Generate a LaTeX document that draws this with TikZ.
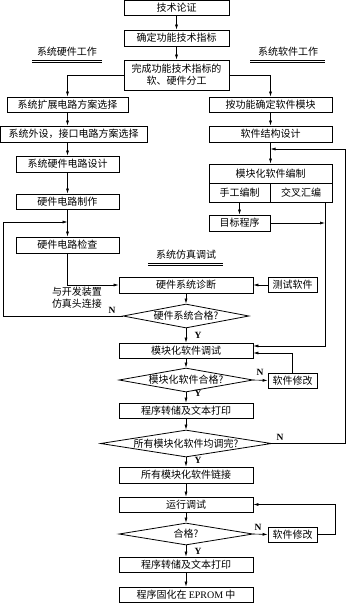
\documentclass[tikz,border=0pt]{standalone}
\usepackage{fontspec}
\setmainfont{Liberation Serif}
\newfontfamily\cjk{Noto Sans CJK SC}
\usetikzlibrary{arrows.meta,shapes.geometric}
\begin{document}
\begin{tikzpicture}[x=1pt,y=-1pt,
  every node/.style={font=\cjk\fontsize{10}{12}\selectfont},
  box/.style={draw,line width=0.8pt,inner sep=0pt,align=center},
  dia/.style={draw,diamond,line width=0.8pt,inner sep=0pt},
  arr/.style={line width=0.6pt,-{Latex[length=5pt,width=3pt]}},
  ln/.style={line width=0.6pt},
  yn/.style={font=\rmfamily\bfseries\fontsize{9.5}{10}\selectfont,inner sep=0pt}
]
\useasboundingbox (0,0) rectangle (347,603);

% top column
\node[box,minimum width=105pt,minimum height=15pt] (t1) at (176.5,8) {技术论证};
\node[box,minimum width=105pt,minimum height=16pt] (t2) at (176.5,38) {确定功能技术指标};
\node[box,minimum width=105pt,minimum height=30pt] (t3) at (176.5,75) {完成功能技术指标的\\软、硬件分工};

% section titles
\node (hw) at (67,52) {系统硬件工作};
\draw[ln] (32,60) -- (102,60) (32,62.5) -- (102,62.5);
\node (sw) at (288,52) {系统软件工作};
\draw[ln] (250,60) -- (325,60) (250,62.5) -- (325,62.5);
\node (sim) at (186,255) {系统仿真调试};
\draw[ln] (148,263) -- (223,263) (148,265.5) -- (223,265.5);

% hardware column
\node[box,minimum width=121pt,minimum height=15pt] (h1) at (67.5,104.5) {系统扩展电路方案选择};
\node[box,minimum width=146.5pt,minimum height=16pt] (h2) at (73.75,134) {系统外设，接口电路方案选择};
\node[box,minimum width=103pt,minimum height=16pt] (h3) at (67.5,164) {系统硬件电路设计};
\node[box,minimum width=103pt,minimum height=15pt] (h4) at (67.5,201.5) {硬件电路制作};
\node[box,minimum width=103pt,minimum height=16pt] (h5) at (67.5,245) {硬件电路检查};
\node[align=center] (lbl) at (77,297.5) {与开发装置\\仿真头连接};

% software column
\node[box,minimum width=123pt,minimum height=15pt] (s1) at (270.5,104.5) {按功能确定软件模块};
\node[box,minimum width=123pt,minimum height=16pt] (s2) at (270.5,134) {软件结构设计};
\node[box,minimum width=123pt,minimum height=19pt] (s3) at (270.5,173.5) {模块化软件编制};
\node[box,minimum width=61pt,minimum height=19pt] (s3a) at (239.5,192.5) {手工编制};
\node[box,minimum width=62pt,minimum height=19pt] (s3b) at (301,192.5) {交叉汇编};
\node[box,minimum width=61pt,minimum height=16pt] (s4) at (239.5,223) {目标程序};

% main column
\node[box,minimum width=134pt,minimum height=16pt] (m1) at (186,285) {硬件系统诊断};
\node[box,minimum width=49pt,minimum height=15pt] (test) at (292.5,285) {测试软件};
\node[dia,minimum width=126pt,minimum height=24pt,shape aspect=5.25] (d1) at (186,316) {硬件系统合格?};
\node[box,minimum width=134pt,minimum height=15pt] (m2) at (186,350.5) {模块化软件调试};
\node[dia,minimum width=134pt,minimum height=24pt,shape aspect=5.58] (d2) at (186,380) {模块化软件合格?};
\node[box,minimum width=49pt,minimum height=15pt] (fix1) at (292.5,380.5) {软件修改};
\node[box,minimum width=134pt,minimum height=15pt] (m3) at (186,410.5) {程序转储及文本打印};
\node[dia,minimum width=171pt,minimum height=27pt,shape aspect=6.33] (d3) at (186,443.5) {所有模块化软件均调完?};
\node[box,minimum width=134pt,minimum height=16pt] (m4) at (186,475) {所有模块化软件链接};
\node[box,minimum width=134pt,minimum height=15pt] (m5) at (186,504.5) {运行调试};
\node[dia,minimum width=134pt,minimum height=22pt,shape aspect=6] (d4) at (186,534) {合格?};
\node[box,minimum width=49pt,minimum height=15pt] (fix2) at (292.5,534.5) {软件修改};
\node[box,minimum width=134pt,minimum height=15pt] (m6) at (186,564.5) {程序转储及文本打印};
\node[box,minimum width=134pt,minimum height=15pt] (m7) at (186,594.5) {程序固化在 {\rmfamily EPROM} 中};

% Y / N labels
\node[yn] (y1) at (198,335) {Y};
\node[yn] (y2) at (198,393.5) {Y};
\node[yn] (y3) at (198,460) {Y};
\node[yn] (y4) at (198,551) {Y};
\node[yn] (n1) at (112,310) {N};
\node[yn] (n2) at (260,372) {N};
\node[yn] (n3) at (280,437) {N};
\node[yn] (n4) at (258,527) {N};

% coordinates
\coordinate (lp) at (3,222);
\coordinate (fr) at (345,149);
\coordinate (cx) at (325,346);
\coordinate (cy) at (292.5,353);
\coordinate (fz) at (335,504.5);

% connectors
\draw[arr] (t1) -- (t2);
\draw[arr] (t2) -- (t3);
\draw[arr] (t3.west) -| (h1.north);
\draw[arr] (t3.east) -| (s1.north);
\draw[arr] (h1.south) -- (h1.south |- h2.north);
\draw[arr] (h3.north |- h2.south) -- (h3.north);
\draw[arr] (h3) -- (h4);
\draw[arr] (h4) -- (h5);
\draw[arr] (d1.west) -- (d1.west -| lp) -- (lp) -- (lp -| h4.south);
\draw[arr] (h5.south) |- (m1.west);
\draw[arr] (test) -- (m1);
\draw[arr] (m1) -- (d1);
\draw[arr] (d1) -- (m2);
\draw[arr] (s1) -- (s2);
\draw[arr] (s2) -- (s3);
\draw[arr] (d3.east) -| (fr) -- (fr -| s2.south);
\draw[arr] (s3a) -- (s4);
\draw[arr] (s4.east) -- (s4.east -| cx);
\draw[arr] (s3b.south -| cx) -- (cx) -- (cx -| m2.east);
\draw[arr] (fix1.north) -- (cy) -- (cy -| m2.east);
\draw[arr] (m2) -- (d2);
\draw[arr] (d2.east) -- (fix1.west);
\draw[arr] (d2) -- (m3);
\draw[arr] (m3) -- (d3);
\draw[arr] (d3) -- (m4);
\draw[arr] (m4) -- (m5);
\draw[arr] (m5) -- (d4);
\draw[arr] (d4.east) -- (fix2.west);
\draw[arr] (fix2.east) -| (fz) -- (m5.east);
\draw[arr] (d4) -- (m6);
\draw[arr] (m6) -- (m7);
\end{tikzpicture}
\end{document}
